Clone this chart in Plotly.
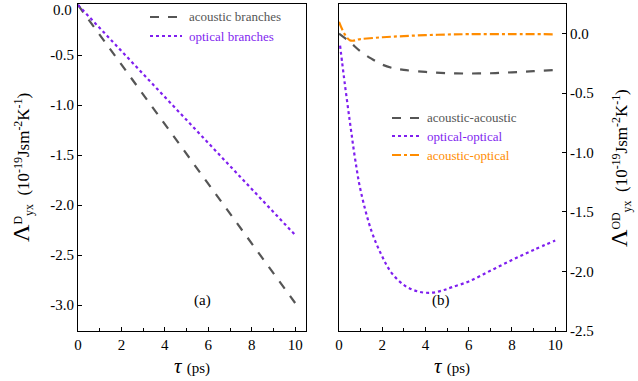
import plotly.graph_objects as go

# Panel (a)
tau_a = [0, 2, 4, 6, 8, 10]
acoustic_branches = [0.0, -0.596, -1.192, -1.788, -2.384, -2.98]
optical_branches = [0.0, -0.46, -0.92, -1.38, -1.84, -2.30]

# Panel (b)
tau_aa = [0, 0.5, 1, 1.5, 2, 2.5, 3, 4, 5, 6, 7, 8, 9, 10]
acoustic_acoustic = [0.0, -0.07, -0.15, -0.21, -0.26, -0.29, -0.305, -0.322, -0.333, -0.335, -0.333, -0.325, -0.315, -0.305]
tau_oo = [0.05, 0.15, 0.26, 0.42, 0.57, 0.75, 1.0, 1.5, 1.96, 2.42, 3.04, 3.66, 4.28, 4.8, 5.2, 6.0, 7.0, 8.0, 9.0, 10]
optical_optical = [-0.1, -0.25, -0.41, -0.63, -0.83, -1.06, -1.32, -1.66, -1.86, -2.01, -2.12, -2.17, -2.18, -2.16, -2.135, -2.085, -1.995, -1.905, -1.82, -1.74]
tau_ao = [0, 0.5, 1, 2, 3, 4, 5, 6, 8, 10]
acoustic_optical = [0.1, -0.055, -0.045, -0.03, -0.02, -0.012, -0.007, -0.004, -0.003, -0.005]

ytick_a = [0, -0.5, -1, -1.5, -2, -2.5, -3]
ytick_a_text = ["", "-0.5", "-1.0", "-1.5", "-2.0", "-2.5", "-3.0"]
ytick_b = [0, -0.5, -1, -1.5, -2, -2.5]
ytick_b_text = ["0.0", "-0.5", "-1.0", "-1.5", "-2.0", "-2.5"]
xticks = [0, 2, 4, 6, 8, 10]
xminor = [1, 3, 5, 7, 9]

GRAY = "#555555"
PURPLE = "#7f1fef"
ORANGE = "#ff8c00"
FONT = "Liberation Serif, Times New Roman, DejaVu Serif, serif"

fig = go.Figure()
fig.add_trace(go.Scatter(x=tau_a, y=acoustic_branches, mode="lines", name="acoustic branches",
                         line=dict(color=GRAY, width=2.2, dash="dash"), xaxis="x", yaxis="y"))
fig.add_trace(go.Scatter(x=tau_a, y=optical_branches, mode="lines", name="optical branches",
                         line=dict(color=PURPLE, width=2.2, dash="dot"), xaxis="x", yaxis="y"))
fig.add_trace(go.Scatter(x=tau_aa, y=acoustic_acoustic, mode="lines", line_shape="spline",
                         line=dict(color=GRAY, width=2.2, dash="dash"), xaxis="x2", yaxis="y2"))
fig.add_trace(go.Scatter(x=tau_oo, y=optical_optical, mode="lines", line_shape="spline",
                         line=dict(color=PURPLE, width=2.2, dash="dot"), xaxis="x2", yaxis="y2"))
fig.add_trace(go.Scatter(x=tau_ao, y=acoustic_optical, mode="lines", line_shape="spline",
                         line=dict(color=ORANGE, width=2.2, dash="dashdot"), xaxis="x2", yaxis="y2"))

W, H = 638, 381
ydom = [(H - 331) / H, (H - 4) / H]

axis_common = dict(showline=True, linecolor="black", linewidth=1, mirror=True, showgrid=False,
                   zeroline=False, ticks="inside", ticklen=4, tickcolor="black", automargin=False,
                   ticklabeloverflow="allow",
                   tickfont=dict(family=FONT, size=15, color="black"))

fig.update_layout(
    width=W, height=H, margin=dict(l=0, r=0, t=0, b=0, autoexpand=False),
    paper_bgcolor="white", plot_bgcolor="white", showlegend=False,
    font=dict(family=FONT, color="black"),
    xaxis=dict(domain=[78 / W, 306 / W], range=[0, 10.5], tickvals=xticks,
               minor=dict(tickvals=xminor, ticks="inside", ticklen=3, tickcolor="black"),
               anchor="y", **axis_common),
    yaxis=dict(domain=ydom, range=[-3.26, 0.01], tickvals=ytick_a, ticktext=ytick_a_text,
               anchor="x", **axis_common),
    xaxis2=dict(domain=[339 / W, 566 / W], range=[0, 10.5], tickvals=xticks,
                minor=dict(tickvals=xminor, ticks="inside", ticklen=3, tickcolor="black"),
                anchor="y2", **axis_common),
    yaxis2=dict(domain=ydom, range=[-2.502, 0.25], side="right", tickvals=ytick_b, ticktext=ytick_b_text,
                anchor="x2", **axis_common),
)

ann = []
# top "0.0" label of the left axis, kept fully inside the page
ann.append(dict(x=74 / W, y=1.0, xref="paper", yref="paper", showarrow=False, text="0.0",
                xanchor="right", yanchor="top", font=dict(family=FONT, size=15, color="black")))
# x-axis titles
for cx in [192, 452]:
    ann.append(dict(x=cx / W, y=(H - 366) / H, xref="paper", yref="paper", showarrow=False,
                    text="<i>τ</i> <span style='font-size:15px'>(ps)</span>",
                    font=dict(family=FONT, size=21, color="black"), xanchor="center", yanchor="middle"))
# y titles
ann.append(dict(x=22 / W, y=(H - 168) / H, xref="paper", yref="paper", showarrow=False, textangle=-90,
                text="<span style='font-size:24px'>Λ</span><sup>D</sup><sub>yx</sub>  (10<sup>-19</sup>Jsm<sup>-2</sup>K<sup>-1</sup>)",
                font=dict(family=FONT, size=17, color="black"), xanchor="center", yanchor="middle"))
ann.append(dict(x=620 / W, y=(H - 168) / H, xref="paper", yref="paper", showarrow=False, textangle=-90,
                text="<span style='font-size:24px'>Λ</span><sup>OD</sup><sub>yx</sub>  (10<sup>-19</sup>Jsm<sup>-2</sup>K<sup>-1</sup>)",
                font=dict(family=FONT, size=17, color="black"), xanchor="center", yanchor="middle"))
# panel labels
ann.append(dict(x=192 / W, y=(H - 311) / H, xref="paper", yref="paper", showarrow=False, text="(a)",
                font=dict(family=FONT, size=15, color="black")))
ann.append(dict(x=452 / W, y=(H - 311) / H, xref="paper", yref="paper", showarrow=False, text="(b)",
                font=dict(family=FONT, size=15, color="black")))

# manual legends (line samples as shapes, text as annotations)
shapes = []
def legend_item(x0, x1, yp, color, dash, label):
    shapes.append(dict(type="line", xref="paper", yref="paper", x0=x0 / W, x1=x1 / W,
                       y0=(H - yp) / H, y1=(H - yp) / H, line=dict(color=color, width=2.2, dash=dash)))
    ann.append(dict(x=(x1 + 5) / W, y=(H - yp) / H, xref="paper", yref="paper", showarrow=False,
                    text=label, xanchor="left", yanchor="middle",
                    font=dict(family=FONT, size=13, color=color)))

legend_item(150, 182, 17, GRAY, "dash", "acoustic branches")
legend_item(150, 182, 36, PURPLE, "dot", "optical branches")
legend_item(392, 420, 118, GRAY, "dash", "acoustic-acoustic")
legend_item(392, 420, 136, PURPLE, "dot", "optical-optical")
legend_item(392, 420, 155, ORANGE, "dashdot", "acoustic-optical")

fig.update_layout(annotations=ann, shapes=shapes)
fig.write_html("out.html")
